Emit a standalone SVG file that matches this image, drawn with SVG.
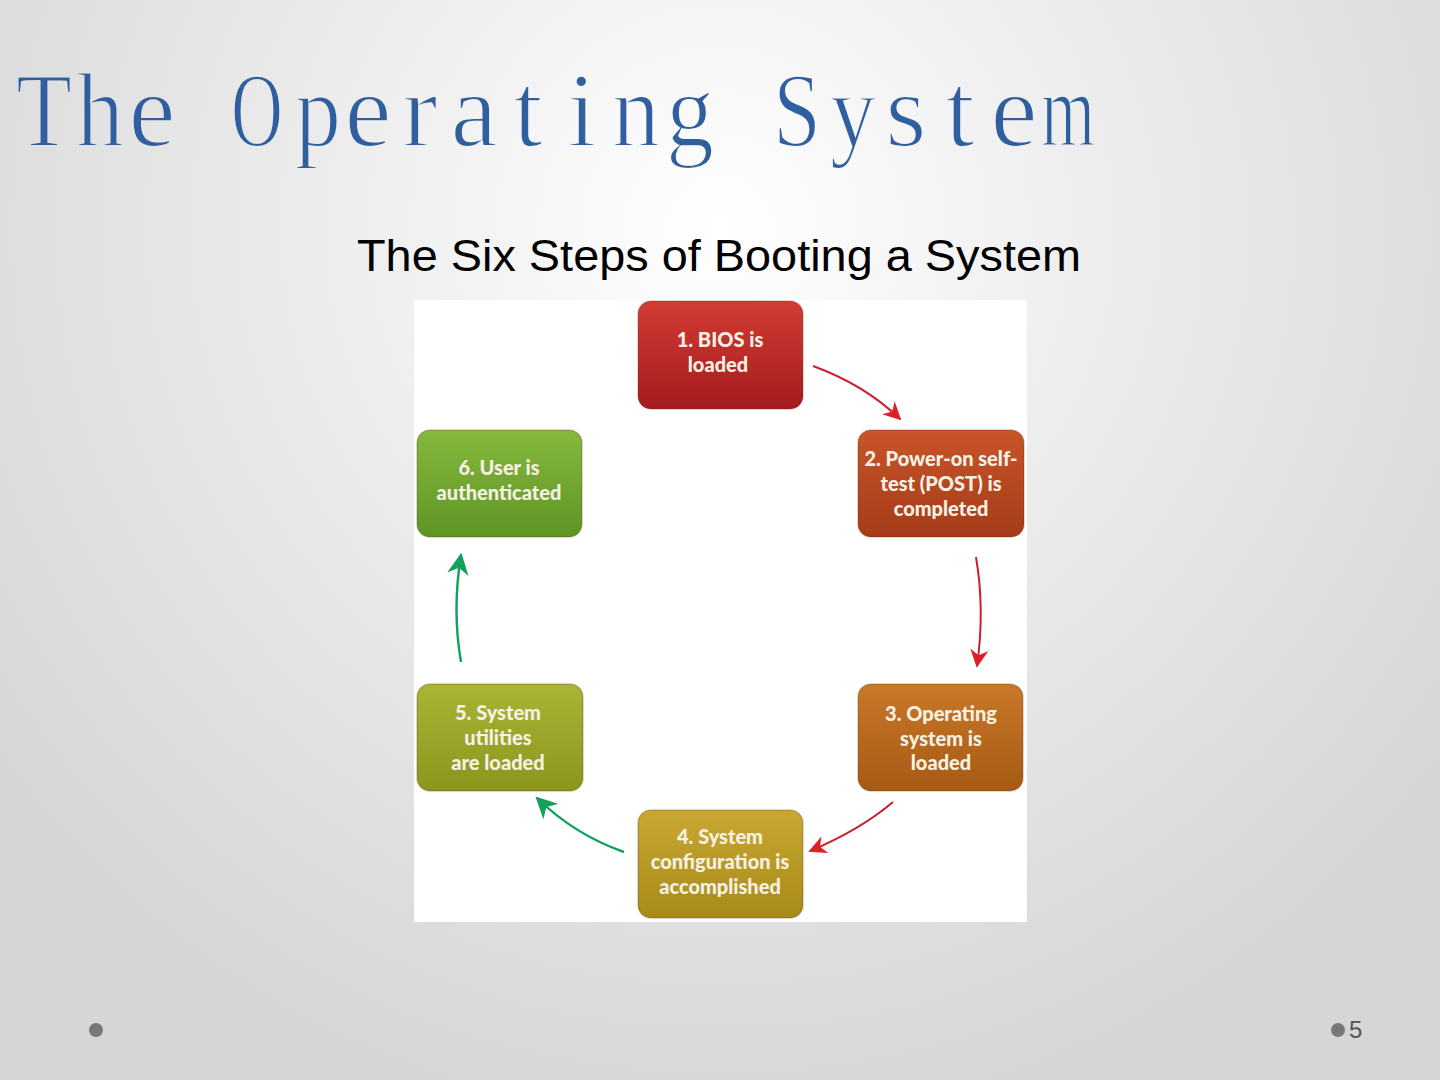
<svg xmlns="http://www.w3.org/2000/svg" width="1440" height="1080" viewBox="0 0 1440 1080">
<defs>
<radialGradient id="bg" cx="720" cy="230" r="900" gradientUnits="userSpaceOnUse">
<stop offset="0" stop-color="#ffffff"/>
<stop offset="0.45" stop-color="#ececec"/>
<stop offset="1" stop-color="#d6d6d6"/>
</radialGradient>
<linearGradient id="g1" x1="0" y1="0" x2="0" y2="1"><stop offset="0" stop-color="#d23c34"/><stop offset="1" stop-color="#a51b1c"/></linearGradient>
<linearGradient id="g2" x1="0" y1="0" x2="0" y2="1"><stop offset="0" stop-color="#c9552a"/><stop offset="1" stop-color="#a43b18"/></linearGradient>
<linearGradient id="g3" x1="0" y1="0" x2="0" y2="1"><stop offset="0" stop-color="#c97828"/><stop offset="1" stop-color="#a65a14"/></linearGradient>
<linearGradient id="g4" x1="0" y1="0" x2="0" y2="1"><stop offset="0" stop-color="#c9a832"/><stop offset="1" stop-color="#a88a18"/></linearGradient>
<linearGradient id="g5" x1="0" y1="0" x2="0" y2="1"><stop offset="0" stop-color="#aab436"/><stop offset="1" stop-color="#8a961c"/></linearGradient>
<linearGradient id="g6" x1="0" y1="0" x2="0" y2="1"><stop offset="0" stop-color="#86b83c"/><stop offset="1" stop-color="#5f9526"/></linearGradient>
<marker id="ar" viewBox="0 0 10 10" refX="9" refY="5" markerWidth="9" markerHeight="9" orient="auto" markerUnits="strokeWidth">
<path d="M0,0 L10,5 L0,10 L3,5 Z" fill="#e02028"/>
</marker>
<marker id="ag" viewBox="0 0 10 10" refX="9" refY="5" markerWidth="9" markerHeight="9" orient="auto" markerUnits="strokeWidth">
<path d="M0,0 L10,5 L0,10 L3,5 Z" fill="#13a05a"/>
</marker>
</defs>
<style>
.title{font-family:"Liberation Serif","Times New Roman",serif;font-size:106px;fill:#2f5f9f;text-anchor:middle;stroke:url(#bg);stroke-width:2}
.sub{font-family:"Liberation Sans",Arial,sans-serif;font-size:44px;fill:#000}
.box{stroke:#5a2a10;stroke-opacity:0.25;stroke-width:1.5}
.lbl{font-family:Lato,"Open Sans",sans-serif;font-weight:900;font-size:20px;fill:#f6f1e4;text-anchor:middle}
.cr{fill:none;stroke:#c8202e;stroke-width:2}
.cg{fill:none;stroke:#13a05a;stroke-width:2.4}
.dot{fill:#777}
.pg{font-family:"Liberation Sans",Arial,sans-serif;font-size:24px;fill:#555}
</style>
<rect width="1440" height="1080" fill="url(#bg)"/>
<text class="title" y="146"><tspan x="44" textLength="56" lengthAdjust="spacingAndGlyphs">T</tspan><tspan x="100" textLength="48" lengthAdjust="spacingAndGlyphs">h</tspan><tspan x="152">e</tspan><tspan x="257" textLength="52" lengthAdjust="spacingAndGlyphs">O</tspan><tspan x="318" textLength="46" lengthAdjust="spacingAndGlyphs">p</tspan><tspan x="368">e</tspan><tspan x="420">r</tspan><tspan x="474">a</tspan><tspan x="528">t</tspan><tspan x="582">i</tspan><tspan x="636" textLength="48" lengthAdjust="spacingAndGlyphs">n</tspan><tspan x="690" textLength="48" lengthAdjust="spacingAndGlyphs">g</tspan><tspan x="797" textLength="48" lengthAdjust="spacingAndGlyphs">S</tspan><tspan x="853" textLength="46" lengthAdjust="spacingAndGlyphs">y</tspan><tspan x="906">s</tspan><tspan x="960">t</tspan><tspan x="1014">e</tspan><tspan x="1068" textLength="54" lengthAdjust="spacingAndGlyphs">m</tspan></text>
<text class="sub" x="357" y="271" textLength="724" lengthAdjust="spacingAndGlyphs">The Six Steps of Booting a System</text>
<rect x="414" y="300" width="613" height="622" fill="#ffffff"/>
<g id="connectors">
<path class="cr" d="M813,366 Q865,385 900,419" marker-end="url(#ar)"/>
<path class="cr" d="M976,557 Q985,610 977,666" marker-end="url(#ar)"/>
<path class="cr" d="M893,802 Q860,830 810,851" marker-end="url(#ar)"/>
<path class="cg" d="M624,852 Q575,835 537,798" marker-end="url(#ag)"/>
<path class="cg" d="M461,662 Q452,610 461,555" marker-end="url(#ag)"/>
</g>
<g id="node1">
<rect class="box" x="638" y="301" width="165" height="108" rx="13" fill="url(#g1)"/>
<text class="lbl" x="720" y="347">1. BIOS is</text>
<text class="lbl" x="718" y="372">loaded</text>
</g>
<g id="node2">
<rect class="box" x="858" y="430" width="166" height="107" rx="13" fill="url(#g2)"/>
<text class="lbl" x="941" y="466">2. Power-on self-</text>
<text class="lbl" x="941" y="491">test (POST) is</text>
<text class="lbl" x="941" y="516">completed</text>
</g>
<g id="node3">
<rect class="box" x="858" y="684" width="165" height="107" rx="13" fill="url(#g3)"/>
<text class="lbl" x="941" y="721">3. Operating</text>
<text class="lbl" x="941" y="746">system is</text>
<text class="lbl" x="941" y="770">loaded</text>
</g>
<g id="node4">
<rect class="box" x="638" y="810" width="165" height="108" rx="13" fill="url(#g4)"/>
<text class="lbl" x="720" y="844">4. System</text>
<text class="lbl" x="720" y="869">configuration is</text>
<text class="lbl" x="720" y="894">accomplished</text>
</g>
<g id="node5">
<rect class="box" x="417" y="684" width="166" height="107" rx="13" fill="url(#g5)"/>
<text class="lbl" x="498" y="720">5. System</text>
<text class="lbl" x="498" y="745">utilities</text>
<text class="lbl" x="498" y="770">are loaded</text>
</g>
<g id="node6">
<rect class="box" x="417" y="430" width="165" height="107" rx="13" fill="url(#g6)"/>
<text class="lbl" x="499" y="475">6. User is</text>
<text class="lbl" x="499" y="500">authenticated</text>
</g>
<circle class="dot" cx="96" cy="1030" r="7"/>
<circle class="dot" cx="1338" cy="1030" r="7"/>
<text class="pg" x="1349" y="1038">5</text>
</svg>
